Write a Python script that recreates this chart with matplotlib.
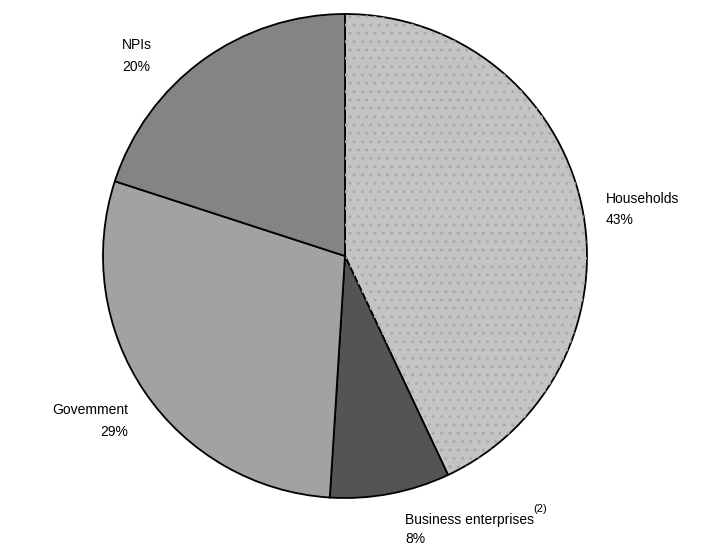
import matplotlib
matplotlib.use("Agg")
import matplotlib.pyplot as plt

labels = ["Households", "Business enterprises", "Govemment", "NPIs"]
shares = [43, 8, 29, 20]
colors = ["#c4c4c4", "#545454", "#a2a2a2", "#848484"]

W, H = 719, 548
CX, CY, R = 345, 256, 242

plt.rcParams["font.family"] = ["Liberation Sans", "DejaVu Sans"]

fig = plt.figure(figsize=(W / 100, H / 100), dpi=100)
ax = fig.add_axes([(CX - R) / W, 1 - (CY + R) / H, 2 * R / W, 2 * R / H])
wedges, _ = ax.pie(shares, colors=colors, startangle=90, counterclock=False,
                   wedgeprops=dict(edgecolor="black", linewidth=1.3))
ax.set_xlim(-1, 1)
ax.set_ylim(-1, 1)
ax.set_aspect("equal")
ax.axis("off")

# dotted texture on the households slice
w = wedges[0]
dots = matplotlib.patches.Wedge(w.center, w.r, w.theta1, w.theta2,
                                facecolor="none", edgecolor="#aaaaaa",
                                hatch="..", linewidth=0)
ax.add_patch(dots)


def px(x, y):
    return (x - CX) / R, (CY - y) / R


fs = 10
# (name x, name y, pct y, alignment) in picture pixels
spots = {
    "Households": (606, 199, 220, "left"),
    "NPIs": (122, 45, 67, "left"),
    "Govemment": (128, 410, 432, "right"),
    "Business enterprises": (405, 520, 539, "left"),
}
for lab, val in zip(labels, shares):
    x, y1, y2, ha = spots[lab]
    ax.text(*px(x, y1), lab, fontsize=fs, ha=ha, va="center", clip_on=False)
    ax.text(*px(x, y2), f"{val}%", fontsize=fs, ha=ha, va="center", clip_on=False)
ax.text(*px(533, 509), "(2)", fontsize=8, ha="left", va="center", clip_on=False)

fig.savefig("out.png", dpi=100, facecolor="white")
